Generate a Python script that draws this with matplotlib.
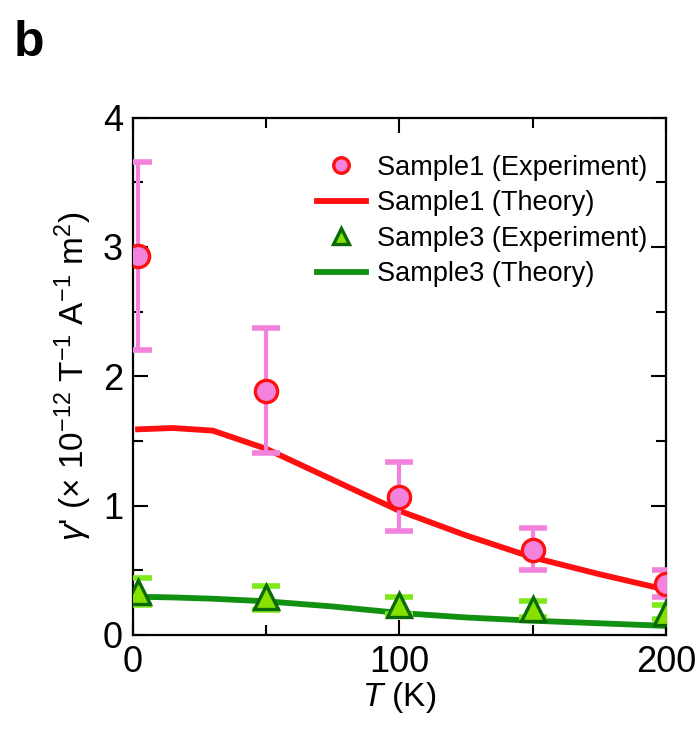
import numpy as np
import matplotlib.pyplot as plt
from matplotlib.ticker import MultipleLocator

plt.rcParams['font.family'] = ['Liberation Sans', 'DejaVu Sans']
plt.rcParams['mathtext.fontset'] = 'custom'
plt.rcParams['mathtext.rm'] = 'Liberation Sans'
plt.rcParams['mathtext.it'] = 'Liberation Sans:italic'

# experimental points
T_exp = [2, 50, 100, 150, 200]
s1_exp = [2.93, 1.89, 1.07, 0.66, 0.39]
s1_lo = [2.20, 1.41, 0.80, 0.50, 0.29]
s1_hi = [3.66, 2.37, 1.34, 0.83, 0.50]
s3_exp = [0.33, 0.29, 0.23, 0.20, 0.17]
s3_lo = [0.23, 0.19, 0.16, 0.14, 0.12]
s3_hi = [0.44, 0.38, 0.29, 0.26, 0.23]

# theory curves
T_th = [2, 15, 30, 50, 75, 100, 125, 150, 175, 200]
s1_th = [1.59, 1.60, 1.58, 1.44, 1.20, 0.96, 0.77, 0.60, 0.47, 0.35]
s3_th = [0.295, 0.29, 0.28, 0.26, 0.22, 0.17, 0.135, 0.11, 0.09, 0.07]

fig = plt.figure(figsize=(6.95, 7.4), dpi=100)
ax = fig.add_axes([0.191, 0.142, 0.767, 0.699])

pink = '#F282DC'
lime = '#7FE81A'

ax.plot(T_th, s1_th, color='#FF1010', lw=4.2, label='Sample1 (Theory)', zorder=2)
ax.plot(T_th, s3_th, color='#129012', lw=4.2, label='Sample3 (Theory)', zorder=2)

yerr1 = [np.array(s1_exp) - np.array(s1_lo), np.array(s1_hi) - np.array(s1_exp)]
ax.errorbar(T_exp, s1_exp, yerr=yerr1, fmt='none', ecolor=pink, elinewidth=3,
            capsize=10, capthick=4, zorder=3)
ax.plot(T_exp, s1_exp, 'o', ms=16, mfc=pink, mec='#FF1010', mew=2.4,
        ls='none', label='Sample1 (Experiment)', zorder=4)

yerr3 = [np.array(s3_exp) - np.array(s3_lo), np.array(s3_hi) - np.array(s3_exp)]
ax.errorbar(T_exp, s3_exp, yerr=yerr3, fmt='none', ecolor=lime, elinewidth=3,
            capsize=10, capthick=4, zorder=3)
ax.plot(T_exp, s3_exp, '^', ms=17, mfc='#86E000', mec='#0A6A0A', mew=2.4,
        ls='none', label='Sample3 (Experiment)', zorder=4)

ax.set_xlim(0, 200)
ax.set_ylim(0, 4)
ax.xaxis.set_major_locator(MultipleLocator(100))
ax.xaxis.set_minor_locator(MultipleLocator(50))
ax.yaxis.set_major_locator(MultipleLocator(1))
ax.yaxis.set_minor_locator(MultipleLocator(0.5))
ax.tick_params(which='both', direction='in', top=True, right=True, width=1.5,
               labelsize=26, pad=7)
ax.tick_params(which='major', length=11)
ax.tick_params(which='minor', length=7)
for sp in ax.spines.values():
    sp.set_linewidth(1.6)

ax.set_xlabel(r'$T$ (K)', fontsize=24, labelpad=0)
ax.set_ylabel(r"$\gamma$' ($\times$ 10$^{-12}$ T$^{-1}$ A$^{-1}$ m$^{2}$)",
              fontsize=24, labelpad=6)

h, l = ax.get_legend_handles_labels()
order = [2, 0, 3, 1]
ax.legend([h[i] for i in order], [l[i] for i in order], loc='upper right',
          bbox_to_anchor=(0.995, 0.96), frameon=False, fontsize=19.5,
          handlelength=1.8, handletextpad=0.4, labelspacing=0.35,
          borderaxespad=0.2, markerscale=0.7)

fig.text(0.02, 0.925, 'b', fontsize=36, fontweight='bold')

fig.savefig('out.png', dpi=100)
